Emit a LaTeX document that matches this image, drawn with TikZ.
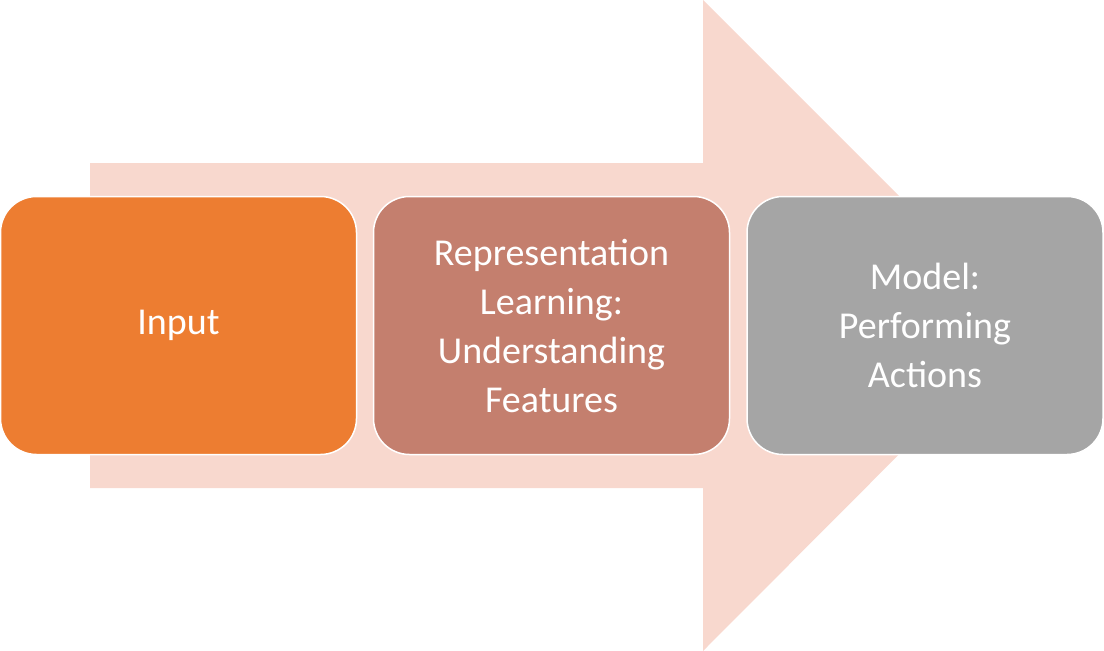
\documentclass[tikz,border=0pt]{standalone}
\usepackage{fontspec}
\setmainfont{Carlito}
\definecolor{arr}{HTML}{F8D8CE}
\definecolor{c1}{HTML}{ED7D31}
\definecolor{c2}{HTML}{C47F6E}
\definecolor{c3}{HTML}{A5A5A5}
\begin{document}
\begin{tikzpicture}[x=1pt,y=-1pt,
 box/.style={draw=white,line width=1.5pt,rounded corners=36pt,minimum width=356pt,minimum height=258pt,text=white,align=center,font=\fontsize{38}{49}\selectfont,inner sep=0pt}]
\useasboundingbox (0,0) rectangle (1104,651);
\fill[arr] (90,163) -- (703,163) -- (703,0) -- (1028,325) -- (703,651) -- (703,488) -- (90,488) -- cycle;
\node[box,fill=c1] (a) at (178.5,325.5) {Input};
\node[box,fill=c2] (b) at (551.5,325.5) {Representation\\Learning:\\Understanding\\Features};
\node[box,fill=c3] (c) at (925,325.5) {Model:\\Performing\\Actions};
\end{tikzpicture}
\end{document}
